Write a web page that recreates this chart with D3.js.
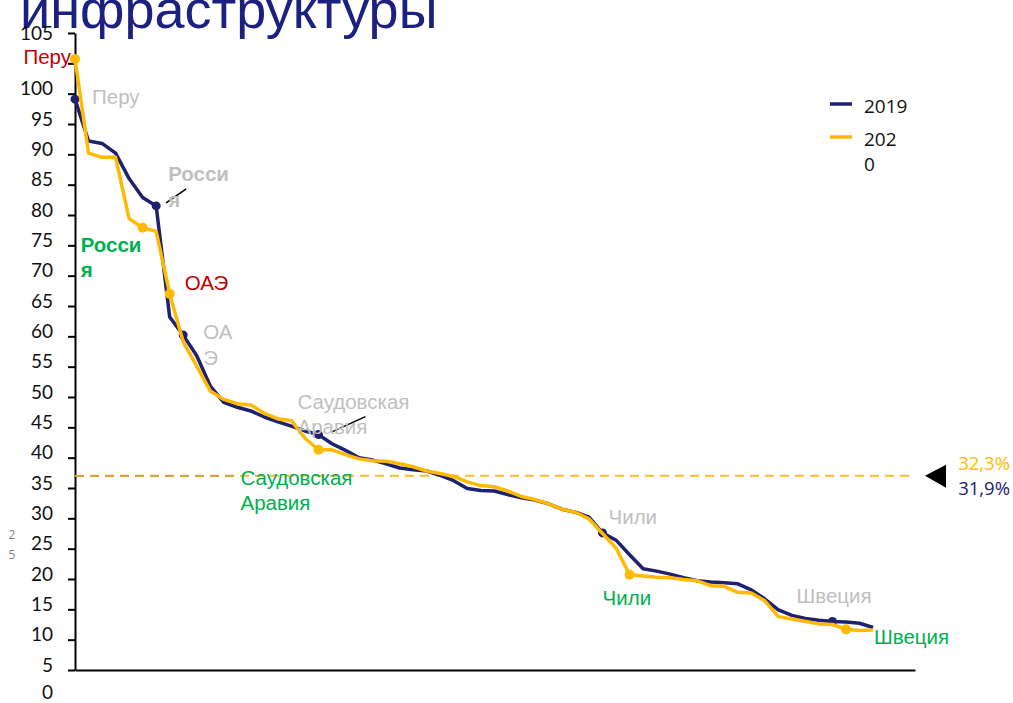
<!DOCTYPE html>
<html>
<head>
<meta charset="utf-8">
<script src="https://cdn.jsdelivr.net/npm/d3@7"></script>
<style>
  html, body { margin: 0; padding: 0; background: #fff; }
  svg { display: block; }
</style>
</head>
<body>
<svg id="chart" width="1013" height="703"></svg>
<script>
// index of country in the ranking (0 = first) -> index value
const values2019 = [94.1, 87.2, 86.8, 85.2, 81.0, 77.9, 76.5, 58.2, 55.2, 51.8,
  46.8, 44.1, 43.3, 42.7, 41.7, 40.9, 40.2, 39.4, 38.8, 37.3,
  36.2, 35.0, 34.6, 34.0, 33.3, 33.0, 32.8, 32.1, 31.2, 29.9,
  29.6, 29.5, 28.9, 28.4, 28.0, 27.4, 26.5, 26.0, 25.2, 22.6,
  21.4, 19.0, 16.7, 16.3, 15.8, 15.2, 14.7, 14.5, 14.4, 14.2,
  13.2, 11.7, 9.9, 9.0, 8.5, 8.2, 8.0, 7.9, 7.7, 7.0]
const values2020 = [100.7, 85.2, 84.5, 84.5, 74.4, 72.9, 72.3, 62.0, 54.1, 50.1,
  46.0, 44.6, 43.9, 43.7, 42.3, 41.4, 41.1, 38.2, 36.3, 36.3,
  35.5, 34.8, 34.5, 34.4, 34.0, 33.5, 32.8, 32.4, 31.9, 31.0,
  30.4, 30.2, 29.5, 28.6, 28.1, 27.4, 26.5, 26.0, 24.9, 22.5,
  20.1, 15.7, 15.5, 15.3, 15.2, 14.9, 14.7, 13.9, 13.8, 12.8,
  12.7, 11.4, 8.8, 8.4, 8.0, 7.6, 7.5, 6.7, 6.5, 6.6]

const averageValue = 32.0
const averageLabels = ["32,3%", "31,9%"]

const yTickValues = d3.range(0, 106, 5)
const yTickLabels = ["5", "10", "15", "20", "25", "30", "35", "40", "45", "50",
  "55", "60", "65", "70", "75", "80", "85", "90", "95", "100", "", "105"]

const legendLabels = [["2019"], ["202", "0"]]

// highlighted countries (rank index per year)
const markers2019 = [0, 6, 8, 18, 39, 56]
const markers2020 = [0, 5, 7, 18, 41, 57]

const notes = [
  { series: 2020, idx: 0, lines: ["Перу"], color: "#c00000", dx: -4, dy: -2, anchor: "end" },
  { series: 2019, idx: 0, lines: ["Перу"], color: "#bfbfbf", dx: 17, dy: -2 },
  { series: 2019, idx: 6, lines: ["Росси", "я"], color: "#bfbfbf", dx: 12, dy: -32, bold: true },
  { series: 2020, idx: 5, lines: ["Росси", "я"], color: "#00b050", dx: -62, dy: 17, bold: true },
  { series: 2020, idx: 7, lines: ["ОАЭ"], color: "#c00000", dx: 15, dy: -11 },
  { series: 2019, idx: 8, lines: ["ОА", "Э"], color: "#bfbfbf", dx: 20, dy: -3 },
  { series: 2019, idx: 18, lines: ["Саудовская", "Аравия"], color: "#bfbfbf", dx: -21, dy: -33 },
  { series: 2020, idx: 18, lines: ["Саудовская", "Аравия"], color: "#00b050", dx: -78, dy: 28 },
  { series: 2019, idx: 39, lines: ["Чили"], color: "#bfbfbf", dx: 6, dy: -16 },
  { series: 2020, idx: 41, lines: ["Чили"], color: "#00b050", dx: -27, dy: 23 },
  { series: 2019, idx: 56, lines: ["Швеция"], color: "#bfbfbf", dx: -36, dy: -26 },
  { series: 2020, idx: 57, lines: ["Швеция"], color: "#00b050", dx: 28, dy: 7 }
]

const NAVY = "#1e2070"
const YELLOW = "#ffb900"

const svg = d3.select("#chart")
const x = d3.scaleLinear().domain([0, 62.1]).range([75, 915])
const y = d3.scaleLinear().domain([0, 105]).range([670, 33])
const seriesOf = (s) => s === 2019 ? values2019 : values2020

// title (cut by the top edge)
svg.append("text")
    .attr("x", 20).attr("y", 28)
    .attr("font-family", "Liberation Sans, Arial, sans-serif")
    .attr("font-size", 54)
    .attr("fill", "#1c2080")
    .text("инфраструктуры")

// axes
const yAxis = svg.append("g")
    .attr("transform", `translate(${x(0)},0)`)
    .call(d3.axisLeft(y)
        .tickValues(yTickValues)
        .tickFormat((d, i) => yTickLabels[i])
        .tickSize(7)
        .tickPadding(15)
        .tickSizeOuter(0))
yAxis.select(".domain").attr("stroke", "#000").attr("stroke-width", 2)
yAxis.selectAll(".tick line").attr("stroke", "#000").attr("stroke-width", 2)
yAxis.selectAll(".tick text")
    .attr("font-family", "Lato, sans-serif")
    .attr("font-size", 19)
    .attr("fill", "#111")
    .attr("y", d => d === 105 ? 0 : -5)

svg.append("text")
    .attr("x", x(0) - 22).attr("y", y(-3.8))
    .attr("dy", "0.32em")
    .attr("text-anchor", "end")
    .attr("font-family", "Lato, sans-serif")
    .attr("font-size", 19)
    .attr("fill", "#111")
    .text("0")

const xAxis = svg.append("g")
    .attr("transform", `translate(0,${y(0)})`)
    .call(d3.axisBottom(x).tickValues([]).tickSizeOuter(0))
xAxis.select(".domain").attr("stroke", "#000").attr("stroke-width", 2)

// stray small label at the left
svg.append("g").selectAll("text")
    .data(["2", "5"])
    .join("text")
    .attr("x", 12).attr("y", (d, i) => 535 + i * 20)
    .attr("dy", "0.35em")
    .attr("text-anchor", "middle")
    .attr("font-family", "Open Sans, sans-serif")
    .attr("font-size", 12)
    .attr("fill", "#7f7f7f")
    .text(d => d)

// average dashed line
svg.append("line")
    .attr("x1", x(0)).attr("x2", 240)
    .attr("y1", y(averageValue)).attr("y2", y(averageValue))
    .attr("stroke", "#d4a53a").attr("stroke-width", 2.2)
    .attr("stroke-dasharray", "9,6")
svg.append("line")
    .attr("x1", 240).attr("x2", 915)
    .attr("y1", y(averageValue)).attr("y2", y(averageValue))
    .attr("stroke", "#f8bf2c").attr("stroke-width", 2)
    .attr("stroke-dasharray", "9,6")

svg.append("path")
    .attr("d", `M925,${y(averageValue)} L946,${y(averageValue) - 11} L946,${y(averageValue) + 12} Z`)
    .attr("fill", "#000")

svg.append("g").selectAll("text")
    .data(averageLabels)
    .join("text")
    .attr("x", 1010)
    .attr("y", (d, i) => y(averageValue) - 12 + i * 25)
    .attr("dy", "0.35em")
    .attr("text-anchor", "end")
    .attr("font-family", "Open Sans, sans-serif")
    .attr("font-size", 18.5)
    .attr("fill", (d, i) => i === 0 ? YELLOW : NAVY)
    .text(d => d)

// lines
const line = d3.line().x((d, i) => x(i)).y(d => y(d))
svg.append("path")
    .datum(values2019)
    .attr("d", line)
    .attr("fill", "none")
    .attr("stroke", NAVY)
    .attr("stroke-width", 3.5)
    .attr("stroke-linejoin", "round")
svg.append("g").selectAll("circle")
    .data(markers2019)
    .join("circle")
    .attr("cx", i => x(i)).attr("cy", i => y(values2019[i]))
    .attr("r", 4.5)
    .attr("fill", NAVY)

svg.append("path")
    .datum(values2020)
    .attr("d", line)
    .attr("fill", "none")
    .attr("stroke", YELLOW)
    .attr("stroke-width", 3.5)
    .attr("stroke-linejoin", "round")
svg.append("g").selectAll("circle")
    .data(markers2020)
    .join("circle")
    .attr("cx", i => x(i)).attr("cy", i => y(values2020[i]))
    .attr("r", 5)
    .attr("fill", YELLOW)

// leader lines
const leaders = [{ series: 2019, idx: 6, from: [10, -3], to: [30, -17] },
                 { series: 2019, idx: 18, from: [14, -3], to: [47, -18] }]
svg.append("g").selectAll("line")
    .data(leaders)
    .join("line")
    .attr("x1", d => x(d.idx) + d.from[0]).attr("y1", d => y(seriesOf(d.series)[d.idx]) + d.from[1])
    .attr("x2", d => x(d.idx) + d.to[0]).attr("y2", d => y(seriesOf(d.series)[d.idx]) + d.to[1])
    .attr("stroke", "#000").attr("stroke-width", 1.5)

// annotations
const noteG = svg.append("g")
    .attr("font-family", "Liberation Sans, Arial, sans-serif")
    .attr("font-size", 20.5)
notes.forEach(n => {
    const px = x(n.idx) + n.dx
    const py = y(seriesOf(n.series)[n.idx]) + n.dy
    noteG.append("g").selectAll("text")
        .data(n.lines)
        .join("text")
        .attr("x", px)
        .attr("y", (d, i) => py + i * 25.5)
        .attr("dy", "0.35em")
        .attr("text-anchor", n.anchor || "start")
        .attr("font-weight", n.bold ? "bold" : "normal")
        .attr("fill", n.color)
        .text(d => d)
})

// legend
const legend = svg.append("g").attr("transform", "translate(830,104)")
legendLabels.forEach((lines, k) => {
    const g = legend.append("g").attr("transform", `translate(0,${k * 33})`)
    g.append("line")
        .attr("x1", 0).attr("x2", 22)
        .attr("stroke", k === 0 ? NAVY : YELLOW)
        .attr("stroke-width", 3.5)
    g.selectAll("text")
        .data(lines)
        .join("text")
        .attr("x", 34)
        .attr("y", (d, i) => 2 + i * 25)
        .attr("dy", "0.35em")
        .attr("font-family", "Open Sans, sans-serif")
        .attr("font-size", 19)
        .attr("fill", "#111")
        .text(d => d)
})
</script>
</body>
</html>
